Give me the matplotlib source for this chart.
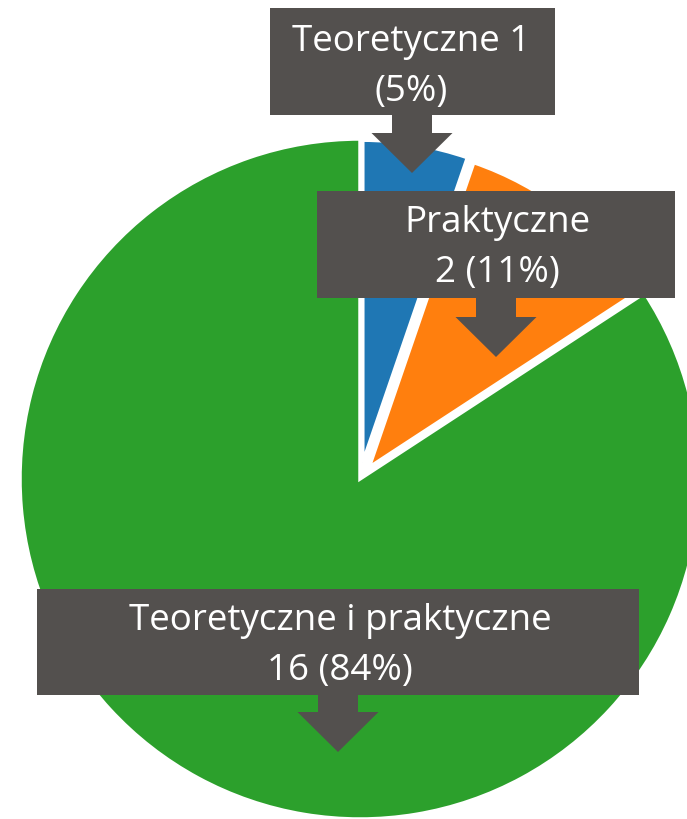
import matplotlib
matplotlib.use("Agg")
import matplotlib.pyplot as plt
from matplotlib.patches import Rectangle, FancyArrow

# ---- data ----
categories = ["Teoretyczne", "Praktyczne", "Teoretyczne i praktyczne"]
counts = [1, 2, 16]
colors = ["#1F77B4", "#FF7F0E", "#2CA02C"]

# ---- layout (pixel units, origin top-left) ----
W, H = 687, 819
GRAY = "#53504E"
pie_center = (360, 479)
pie_radius = 340
small_radius = 322
explode = [17, 15, 0]
# label callouts: box (x, y, w, h), text centre (x, y), arrow centre x, arrow tip y
boxes = [(270, 8, 285, 107), (317, 191, 358, 107), (37, 589, 602, 106)]
text_pos = [(411, 67), (497, 248), (340, 646)]
arrow_x = [412, 496, 338]
arrow_tip = [173, 357, 752]
label_fmt = ["{c} {n}\n({p}%)", "{c}\n{n} ({p}%)", "{c}\n{n} ({p}%)"]


def py(y):
    return H - y


fig = plt.figure(figsize=(W / 100, H / 100), dpi=100)
ax = fig.add_axes([0, 0, 1, 1])

wedges, _ = ax.pie(
    counts,
    colors=colors,
    startangle=90,
    counterclock=False,
    radius=pie_radius,
    center=(pie_center[0], py(pie_center[1])),
    explode=explode,
    wedgeprops=dict(edgecolor="white", linewidth=2.5),
)
wedges[0].set_radius(small_radius)
wedges[1].set_radius(small_radius)

ax.set_xlim(0, W)
ax.set_ylim(0, H)
ax.set_aspect("equal")
ax.axis("off")

total = sum(counts)
for i, (c, n) in enumerate(zip(categories, counts)):
    p = round(100 * n / total)
    s = label_fmt[i].format(c=c, n=n, p=p)
    bx, by, bw, bh = boxes[i]
    ax.add_patch(Rectangle((bx, py(by + bh)), bw, bh, facecolor=GRAY,
                           edgecolor="none", zorder=3))
    start = by + bh - 2
    ax.add_patch(FancyArrow(arrow_x[i], py(start), 0, -(arrow_tip[i] - start),
                            width=40, head_width=81, head_length=40,
                            length_includes_head=True, facecolor=GRAY,
                            edgecolor="none", zorder=3))
    ax.text(text_pos[i][0], py(text_pos[i][1]), s, ha="center", va="center",
            color="white", fontsize=26.5, family="Open Sans", linespacing=1.5,
            zorder=4)

fig.savefig("out.png", dpi=100)
